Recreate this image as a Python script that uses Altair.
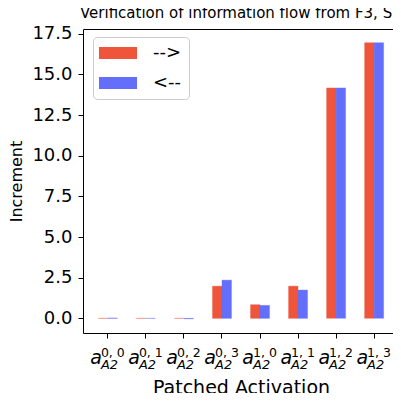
import altair as alt
import pandas as pd

# ---- data ----
sup_labels = ["0, 0", "0, 1", "0, 2", "0, 3", "1, 0", "1, 1", "1, 2", "1, 3"]
forward = [0.0, 0.0, 0.0, 1.98, 0.84, 1.98, 14.17, 16.95]
backward = [0.02, 0.0, -0.03, 2.35, 0.80, 1.74, 14.17, 16.95]
series_names = ["-->", "<--"]
series_colors = ["#EF553B", "#636EFA"]
y_ticks = [0, 2.5, 5, 7.5, 10, 12.5, 15, 17.5]

rows = []
for i, c in enumerate(sup_labels):
    rows.append({"cat": c, "series": series_names[0], "value": forward[i], "base": 0.0})
    rows.append({"cat": c, "series": series_names[1], "value": backward[i], "base": 0.0})
df = pd.DataFrame(rows)
lab = pd.DataFrame({"cat": sup_labels})

FONT = "DejaVu Sans"
W, H = 316, 304

xscale = alt.Scale(domain=sup_labels, paddingInner=0.5, paddingOuter=0.404)
yscale = alt.Scale(domain=[-0.9, 17.79], nice=False, zero=False)
xaxis = alt.Axis(labels=False, tickSize=5, tickColor="black", domain=False,
                 titleFontSize=19, titleFont=FONT, titleFontWeight="normal",
                 titleColor="black", titleBaseline="alphabetic", titleY=60)
xenc = alt.X("cat:N", scale=xscale, sort=sup_labels, axis=xaxis, title="Patched Activation")

bars = alt.Chart(df).mark_bar(strokeWidth=1, strokeOpacity=0.35).encode(
    x=xenc,
    xOffset=alt.XOffset("series:N", sort=series_names,
                        scale=alt.Scale(domain=series_names, paddingInner=0, paddingOuter=0)),
    y=alt.Y("value:Q", scale=yscale,
            axis=alt.Axis(values=y_ticks, format=".1f", title="Increment", grid=False,
                          labelFontSize=18, labelFont=FONT, labelColor="black",
                          labelPadding=6, tickSize=5, tickColor="black", domain=False,
                          titleFontSize=16, titleFont=FONT, titleFontWeight="normal",
                          titleColor="black", titlePadding=7)),
    y2="base:Q",
    color=alt.Color("series:N", sort=series_names,
                    scale=alt.Scale(domain=series_names, range=series_colors),
                    legend=alt.Legend(title=None, orient="none", legendX=10, legendY=8,
                                      fillColor="white", strokeColor="#cccccc",
                                      cornerRadius=4, padding=7,
                                      symbolType="M-3.17,-1H3.17V1H-3.17Z",
                                      symbolSize=144, symbolStrokeWidth=0,
                                      symbolOpacity=1, symbolOffset=9,
                                      labelFontSize=18, labelFont=FONT, labelColor="black",
                                      labelOffset=26, rowPadding=12)),
    stroke=alt.Color("series:N", sort=series_names,
                     scale=alt.Scale(domain=series_names, range=series_colors), legend=None),
)

t_a = alt.Chart(lab).mark_text(text="a", fontStyle="italic", fontSize=19, font=FONT,
                               align="right", baseline="alphabetic", dx=-6,
                               color="black").encode(x=xenc, y=alt.value(H + 31))
t_sup = alt.Chart(lab).mark_text(fontSize=12.5, font=FONT, align="left",
                                 baseline="alphabetic", dx=-7,
                                 color="black").encode(x=xenc, y=alt.value(H + 24),
                                                       text="cat:N")
t_sub = alt.Chart(lab).mark_text(text="A2", fontStyle="italic", fontSize=13, font=FONT,
                                 align="left", baseline="alphabetic", dx=-7,
                                 color="black").encode(x=xenc, y=alt.value(H + 36))

chart = alt.layer(bars, t_a, t_sup, t_sub).properties(
    width=W, height=H,
    title=alt.TitleParams("Verification of information flow from F3, S3 to F5, S5",
                          anchor="start", frame="group", dx=-3, dy=8, fontSize=15,
                          font=FONT, fontWeight="normal", color="black", offset=0,
                          baseline="alphabetic"),
    autosize=alt.AutoSizeParams(type="none"),
    padding={"left": 75, "top": 21, "right": -6, "bottom": 60},
).configure(background="white").configure_view(stroke="black", strokeWidth=1)

chart.save("out.html", embed_options={"renderer": "svg", "actions": False})
